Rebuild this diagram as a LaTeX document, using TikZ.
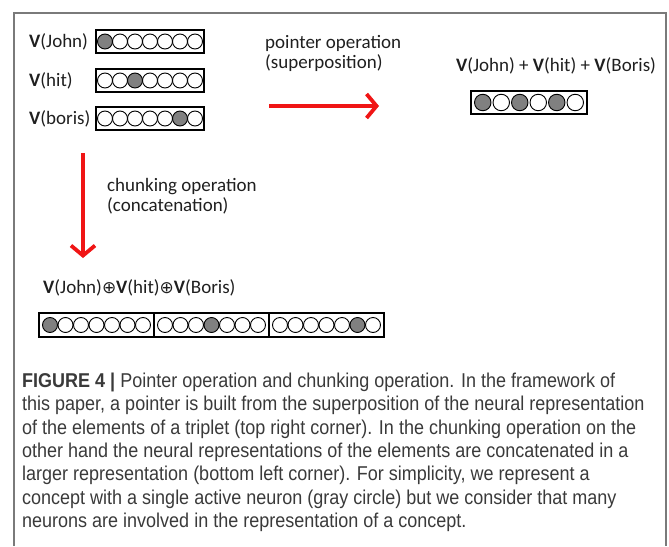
\documentclass[tikz,border=0pt]{standalone}
\usepackage{fontspec}
\setmainfont{Carlito}
\newfontfamily\capfont{Liberation Sans}[FakeStretch=0.9]
\newfontfamily\symfont{DejaVu Sans}
\usepackage{xcolor}
\usetikzlibrary{
  positioning,
  calc,
  arrows.meta
}
\definecolor{framegray}{HTML}{7A7A7A}
\definecolor{arrowred}{HTML}{F01515}
\definecolor{captext}{HTML}{3A3A3A}

\begin{document}
\begin{tikzpicture}[x=1pt, y=-1pt,
      lbl/.style={inner sep=0pt, font=\fontsize{19}{19.5}\selectfont, text=black!88},
      vecbox/.style={draw, line width=1.1pt, minimum height=23pt, inner sep=0pt},
      neuron/.style={circle, draw, line width=0.9pt, minimum size=15pt, inner sep=0pt},
      redarrow/.style={-{Straight Barb[length=10pt, width=24pt]}, line width=3.8pt, arrowred}
    ]
      \useasboundingbox (0,0) rectangle (669,546);
      \draw[framegray, line width=1.3pt] (14,546) -- (14,13) -- (666,13) -- (666,546);

      % Single vectors
      \node[lbl, anchor=west] (tjohn) at (29,42) {\textbf{V}(John)};
      \node[lbl, anchor=west] (thit) at (29,81) {\textbf{V}(hit)};
      \node[lbl, anchor=west] (tboris) at (29,119) {\textbf{V}(boris)};
      \node[vecbox, minimum width=108pt] (vjohn) at (150,41.5) {};
      \node[vecbox, minimum width=108pt] (vhit) at (150,80.5) {};
      \node[vecbox, minimum width=108pt] (vboris) at (150,118.5) {};
      \foreach \row/\on in {vjohn/0, vhit/2, vboris/5}
        \foreach \i in {0,...,6} {
          \pgfmathtruncatemacro\f{\i==\on ? 50 : 0}
          \node[neuron, fill=black!\f] (\row-\i) at ($(\row)+(15*\i-45,0)$) {};
        }

      % Pointer operation
      \coordinate (pstart) at (269,106);
      \coordinate (pend) at (379,106);
      \draw[redarrow] (pstart) -- (pend);
      \node[lbl, anchor=west, align=left] (ptrlab) at (265,53.5) {pointer operation\\(superposition)};

      \node[lbl] (tsum) at (556,66) {\textbf{V}(John) + \textbf{V}(hit) + \textbf{V}(Boris)};
      \node[vecbox, minimum width=116pt] (vsum) at (529,102.5) {};
      \foreach \i in {0,...,5} {
        \pgfmathtruncatemacro\f{mod(\i,2)==0 ? 50 : 0}
        \node[neuron, minimum size=16.5pt, fill=black!\f] (vsum-\i) at ($(vsum)+(18.5*\i-46.25,0)$) {};
      }

      % Chunking operation
      \coordinate (cstart) at (83,153);
      \coordinate (cend) at (83,258);
      \draw[redarrow] (cstart) -- (cend);
      \node[lbl, anchor=west, align=left] (chklab) at (107,196) {chunking operation\\(concatenation)};

      \node[lbl, anchor=west] (tcat) at (43,288) {\textbf{V}(John){\symfont\fontsize{17}{17}\selectfont ⊕}\textbf{V}(hit){\symfont\fontsize{17}{17}\selectfont ⊕}\textbf{V}(Boris)};
      \node[vecbox, minimum width=115pt, minimum height=24pt] (cat1) at (96.5,325) {};
      \node[vecbox, minimum width=115pt, minimum height=24pt] (cat2) at (211.5,325) {};
      \node[vecbox, minimum width=115pt, minimum height=24pt] (cat3) at (326.5,325) {};
      \foreach \seg/\on in {cat1/0, cat2/3, cat3/5}
        \foreach \i in {0,...,6} {
          \pgfmathtruncatemacro\f{\i==\on ? 50 : 0}
          \node[neuron, fill=black!\f] (\seg-\i) at ($(\seg)+(15.5*\i-46.5,0)$) {};
        }

      % Caption
      \node[anchor=north west, inner sep=0pt, align=left, text=captext,
            font=\capfont\fontsize{20}{23.3}\selectfont] (caption) at (22,373)
        {\textbf{FIGURE 4 |} Pointer operation and chunking operation. In the framework of\\
         this paper, a pointer is built from the superposition of the neural representation\\
         of the elements of a triplet (top right corner). In the chunking operation on the\\
         other hand the neural representations of the elements are concatenated in a\\
         larger representation (bottom left corner). For simplicity, we represent a\\
         concept with a single active neuron (gray circle) but we consider that many\\
         neurons are involved in the representation of a concept.};
    \end{tikzpicture}
\end{document}
